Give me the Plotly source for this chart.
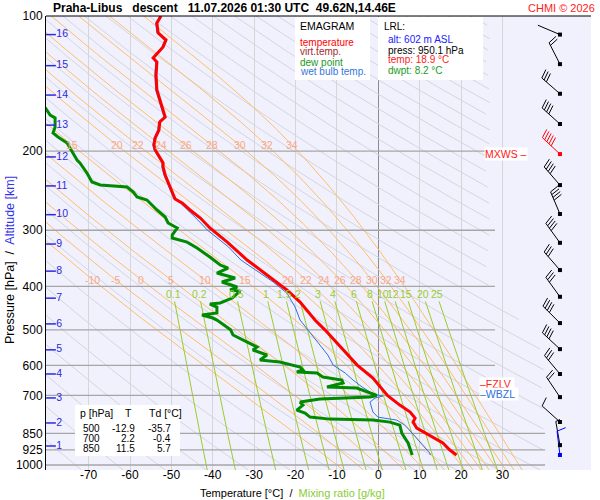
import numpy as np
import plotly.graph_objects as go

# ---------------- sounding data ----------------
temp_p = [100, 103.7, 109.1, 113.1, 117.2, 120.9, 124.0, 126.6, 135.3, 146.2, 153.8, 161.9, 167.9, 172.2,
          179.4, 186.9, 193.8, 198.8, 206.1, 212.5, 216.9, 226.0, 234.3, 240.4, 247.9, 255.6, 260.9, 270.4,
          281.8, 296.6, 318.8, 349.5, 377.5, 407.6, 433.5, 475.5, 500, 535, 568.9, 599, 640, 663, 680.8,
          700, 735.5, 762, 786.2, 802.5, 827.6, 850, 893.3, 926, 950.1]
temp_t = [-52.5, -53.5, -53.2, -51.3, -52.0, -53.2, -54.4, -53.5, -53.7, -53.5, -52.8, -52.0, -51.5, -52.8,
          -53.0, -53.9, -54.2, -53.9, -52.8, -52.0, -52.0, -51.5, -50.8, -50.3, -49.8, -49.1, -47.4, -45.5,
          -43.0, -40.7, -36.5, -31.7, -26.9, -22.1, -18.9, -15.3, -12.9, -10.0, -7.3, -5.1, -1.3, 0.0, 1.1,
          2.2, 5.2, 7.7, 8.9, 8.4, 9.3, 11.5, 15.6, 17.3, 18.9]

wetb_p = [100, 103.7, 109.1, 113.1, 117.2, 120.9, 124.0, 126.6, 135.3, 146.2, 153.8, 161.9, 167.9, 172.2,
          179.4, 186.9, 193.8, 198.8, 206.1, 212.5, 216.9, 226.0, 234.3, 240.4, 247.9, 255.6, 260.9, 270.4,
          284.7, 299.7, 326.9, 349.5, 391.2, 414, 444.8, 475.5, 508.2, 540.5, 568.9, 599, 624, 646.8, 670.5,
          687.9, 698.6, 702.2, 709.4, 724.2, 762, 782.2, 794.3, 814.9, 835.6, 866, 902.6, 940.3, 950.1]
wetb_t = [-52.8, -53.8, -53.5, -51.6, -52.3, -53.5, -54.7, -53.8, -54.0, -53.8, -53.1, -52.3, -51.8, -53.1,
          -53.3, -54.2, -54.5, -54.2, -53.1, -52.3, -52.3, -51.8, -51.1, -50.6, -50.1, -49.4, -47.8, -46.0,
          -43.6, -41.3, -36.2, -33.2, -25.4, -22.1, -20.1, -18.9, -16.5, -14.1, -12.2, -10.9, -8.0, -6.1, -3.9,
          -2.0, -0.1, 1.1, -0.8, -2.0, -1.3, -0.1, 4.5, 6.4, 7.5, 9.0, 10.6, 12.4, 12.6]

dewp_p = [160, 166.2, 168.7, 176.7, 182.2, 186, 191.8, 200.9, 209.3, 212.5, 223.7, 234.3, 237.9, 240.4,
          246.6, 253, 256.9, 270.4, 280.3, 289.1, 296.6, 307.5, 312.3, 318.8, 328.7, 344.2, 358.6, 364.2,
          373.6, 383.3, 391.2, 401.4, 407.6, 410, 424.7, 435.7, 438, 444.8, 458.7, 463.4, 470.6, 475.5,
          500, 513.4, 532.2, 546.1, 554.6, 568.9, 583.7, 589.8, 605, 614.4, 620.8, 624, 636.8, 646.8,
          656.8, 670.5, 673.9, 687.9, 700, 705.8, 713.1, 724.2, 735.5, 754.6, 766.3, 782.2, 790.3, 794.3,
          802.5, 814.9, 850, 893.3, 940.3, 950.1]
dewp_t = [-80.5, -79.3, -78.1, -78.1, -78.6, -77.4, -75.2, -74.0, -72.8, -72.1, -70.4, -69.2, -67.2, -60.7,
          -59.2, -58.3, -55.9, -53.5, -51.5, -50.8, -48.6, -49.8, -49.8, -46.2, -43.8, -40.7, -38.2, -36.3,
          -39.0, -34.6, -37.8, -34.1, -35.8, -33.4, -35.3, -38.2, -40.7, -39.0, -39.0, -42.6, -40.0, -39.0,
          -35.7, -35.1, -31.7, -29.3, -30.3, -26.9, -28.6, -23.8, -18.9, -18.2, -19.7, -14.8, -13.4, -8.8,
          -8.5, -12.4, -5.2, -2.7, -0.4, -2.0, -14.1, -18.9, -18.2, -19.7, -17.7, -16.5, -11.7, -1.3,
          2.8, 5.2, 5.7, 7.2, 8.1, 8.2]

# wind barbs: pressure [hPa], direction [deg], speed [kt]
wind_p = [110, 128, 149, 174, 203, 238, 276, 320, 368, 422, 483, 552, 627, 706, 802, 903, 950]
wind_dir = [293, 333, 311, 312, 313, 319, 337, 324, 319, 324, 315, 313, 320, 326, 312, 350, 353]
wind_kt = [3, 20, 30, 40, 50, 40, 40, 40, 30, 30, 40, 40, 30, 20, 10, 5, 10]
mxws_p = 203
fzlv_p = 660
wbzl_p = 695

# altitude scale
alt_km = [1, 2, 3, 4, 5, 6, 7, 8, 9, 10, 11, 12, 13, 14, 15, 16]
alt_p = [907, 806, 709, 627, 554, 485, 425, 370, 322, 277, 239, 206, 175, 150, 129, 110]

# table of standard levels
tab_p = [500, 700, 850]
tab_t = [-12.9, 2.2, 11.5]
tab_td = [-35.7, -0.4, 5.7]

# launch point
lrl_alt, lrl_press, lrl_temp, lrl_dwpt = 602, 950.1, 18.9, 8.2

# diagram background lines
p_levels = [200, 300, 400, 500, 600, 700, 850, 925, 1000]
p_ticks = [100, 200, 300, 400, 500, 600, 700, 850, 925, 1000]
t_ticks = [-70, -60, -50, -40, -30, -20, -10, 0, 10, 20, 30]
theta_dry = list(range(190, 600, 10))
theta_w = [-10, -5, 0, 5, 10, 15, 20, 22, 24, 26, 28, 30, 32, 34]
mix_ratio = [0.1, 0.2, 0.5, 1, 1.5, 2, 3, 4, 6, 8, 10, 12, 15, 20, 25]

# ---------------- geometry ----------------
W, H = 600, 500
ML, MR, MT, MB = 46, 9, 16, 30
X_MIN, X_MAX = -80.3, 51.4
P_TOP, P_BOT = 100.0, 1025.9
PX_C = (W - ML - MR) / (X_MAX - X_MIN)
PX_DEC = (H - MT - MB) / np.log10(P_BOT / P_TOP)
STN_T = 43.9

FONT = "Liberation Sans, Arial, sans-serif"

RD, CP, LV, EPS = 287.04, 1005.7, 2.501e6, 0.622


def px(xp):
    # pixel -> paper fraction (plot area spans 46..591)
    return (xp - ML) / (W - ML - MR)


def py(yp):
    # pixel -> paper fraction (plot area spans 16..470)
    return (H - MB - yp) / (H - MT - MB)


def sat_vap(tc):
    return 6.112 * np.exp(17.67 * tc / (tc + 243.5))


def dewpoint(w, p):
    e = w * p / (622.0 + w)
    lg = np.log(e / 6.112)
    return 243.5 * lg / (17.67 - lg)


def moist_rate(lnp, tk):
    p = np.exp(lnp)
    e = sat_vap(tk - 273.15)
    rs = EPS * e / (p - e)
    return (RD * tk + LV * rs) / (CP + LV ** 2 * rs * EPS / (RD * tk ** 2))


def pseudo_adiabat(tw):
    parts = []
    for p_end, n in ((P_TOP, 300), (P_BOT, 10)):
        lnp, tk = np.log(1000.0), tw + 273.15
        h = (np.log(p_end) - lnp) / n
        ps, ts = [1000.0], [tw]
        for _ in range(n):
            k1 = moist_rate(lnp, tk)
            k2 = moist_rate(lnp + h / 2, tk + h / 2 * k1)
            k3 = moist_rate(lnp + h / 2, tk + h / 2 * k2)
            k4 = moist_rate(lnp + h, tk + h * k3)
            tk += h * (k1 + 2 * k2 + 2 * k3 + k4) / 6
            lnp += h
            ps.append(np.exp(lnp))
            ts.append(tk - 273.15)
        parts.append((ps, ts))
    ps = parts[0][0][::-1] + parts[1][0][1:]
    ts = parts[0][1][::-1] + parts[1][1][1:]
    return np.array(ps), np.array(ts)


def barb_lines(p0, wdir, wspd, shaft=24, feather=9):
    th = np.radians(wdir)
    ux, uy = np.sin(th), -np.cos(th)
    fx, fy = np.cos(th), np.sin(th)
    segs = [((0, 0), (ux * shaft, uy * shaft))]
    d = shaft
    for _ in range(int(wspd // 10)):
        segs.append(((ux * d, uy * d), (ux * d + fx * feather + ux * 2.5, uy * d + fy * feather + uy * 2.5)))
        d -= 3
    if wspd % 10 >= 5:
        segs.append(((ux * d, uy * d), (ux * d + fx * feather / 2 + ux * 1.2, uy * d + fy * feather / 2 + uy * 1.2)))
    xs, ys = [], []
    for a, b in segs:
        for dx, dy in (a, b):
            xs.append(STN_T + dx / PX_C)
            ys.append(p0 * 10 ** (dy / PX_DEC))
        xs.append(None)
        ys.append(None)
    return xs, ys


fig = go.Figure()

# dry adiabats
pg = np.geomspace(P_TOP, P_BOT, 200)
t_lim = np.clip(27 + 13 * (np.log10(pg) - np.log10(400)) / (np.log10(550) - np.log10(400)), 27, 40)
dx, dy = [], []
for th in theta_dry:
    t = th * (pg / 1000.0) ** (RD / CP) - 273.15
    t = np.where(t <= t_lim, t, np.nan)
    dx += list(t) + [None]
    dy += list(pg) + [None]
fig.add_trace(go.Scatter(x=dx, y=dy, mode="lines", line=dict(color="#d5d5df", width=1), hoverinfo="skip"))

# pseudo-adiabats
sat_lines = {}
mx, my = [], []
for tw in theta_w:
    ps, ts = pseudo_adiabat(tw)
    sat_lines[tw] = (ps, ts)
    mx += list(ts) + [None]
    my += list(ps) + [None]
fig.add_trace(go.Scatter(x=mx, y=my, mode="lines", line=dict(color="#ffbe6a", width=1), hoverinfo="skip"))

# mixing ratio lines
pm = np.geomspace(432, P_BOT, 30)
wx, wy = [], []
for w in mix_ratio:
    wx += list(dewpoint(w, pm)) + [None]
    wy += list(pm) + [None]
fig.add_trace(go.Scatter(x=wx, y=wy, mode="lines", line=dict(color="#9ccc2a", width=1), hoverinfo="skip"))

# isobars
for p in p_levels:
    x_end = 40.3 if p >= 850 else 28.2
    fig.add_trace(go.Scatter(x=[X_MIN, x_end], y=[p, p], mode="lines",
                             line=dict(color="#a6a6a6", width=1.3), hoverinfo="skip"))

# profiles
fig.add_trace(go.Scatter(x=wetb_t, y=wetb_p, mode="lines", line=dict(color="#3070e0", width=1)))
fig.add_trace(go.Scatter(x=dewp_t, y=dewp_p, mode="lines", line=dict(color="#008a00", width=3)))
fig.add_trace(go.Scatter(x=temp_t, y=temp_p, mode="lines", line=dict(color="#ff0000", width=3)))

# wind barbs
barb_col = []
for i, p in enumerate(wind_p):
    col = "black"
    if p == mxws_p:
        col = "#ff0000"
    if i == len(wind_p) - 1:
        col = "#0000ff"
    barb_col.append(col)
    bx, by = barb_lines(p, wind_dir[i], wind_kt[i])
    fig.add_trace(go.Scatter(x=bx, y=by, mode="lines", line=dict(color=col, width=1), hoverinfo="skip"))
fig.add_trace(go.Scatter(x=[STN_T] * len(wind_p), y=wind_p, mode="markers",
                         marker=dict(symbol="square", size=4, color=barb_col), hoverinfo="skip"))

# altitude scale
fig.add_trace(go.Scatter(x=[-79.1] * len(alt_km), y=alt_p, mode="markers+text",
                         marker=dict(symbol="line-ew", size=7, line=dict(color="#2a2ae6", width=1.5)),
                         text=[str(k) for k in alt_km], textposition="middle right",
                         textfont=dict(family=FONT, size=10.5, color="#2a2ae6"), hoverinfo="skip"))

ann = []
# pseudo-adiabat labels
for tw in theta_w:
    ps, ts = sat_lines[tw]
    order = np.argsort(ps)
    for pl in (387, 194):
        xl = float(np.interp(pl, ps[order], ts[order]))
        if -79 < xl < 48:
            ann.append(dict(x=xl, y=np.log10(pl), xref="x", yref="y", text=str(tw), showarrow=False,
                            yanchor="middle", font=dict(family=FONT, size=10.5, color="#f6a88c")))
# mixing ratio labels
for w in mix_ratio:
    ann.append(dict(x=float(dewpoint(w, 417)), y=np.log10(417), xref="x", yref="y", text=f"{w:g}",
                    showarrow=False, yanchor="middle", font=dict(family=FONT, size=10.5, color="#99cc33")))

# level labels
ann.append(dict(x=(528 - 378.3) / PX_C, y=np.log10(mxws_p), xref="x", yref="y", text="MXWS \u2013",
                xanchor="right", yanchor="middle", showarrow=False, bgcolor="white", borderpad=0,
                font=dict(family=FONT, size=10.5, color="#ff2020")))
ann.append(dict(x=(479 - 378.3) / PX_C, y=np.log10(fzlv_p), xref="x", yref="y", text="\u2013FZLV ",
                xanchor="left", yanchor="middle", showarrow=False, bgcolor="white", borderpad=0,
                font=dict(family=FONT, size=10.5, color="#ff2020")))
ann.append(dict(x=(479 - 378.3) / PX_C, y=np.log10(wbzl_p), xref="x", yref="y", text="\u2013WBZL ",
                xanchor="left", yanchor="middle", showarrow=False, bgcolor="white", borderpad=0,
                font=dict(family=FONT, size=10.5, color="#3070e0")))


def txt(xp, yp, s, size=10, color="black", anchor="left", bold=False):
    if bold:
        s = f"<b>{s}</b>"
    ann.append(dict(x=px(xp), y=py(yp), xref="paper", yref="paper", text=s, showarrow=False,
                    xanchor=anchor, yanchor="middle", font=dict(family=FONT, size=size, color=color)))


# title and credit
txt(51, 8, "Praha-Libus&nbsp;&nbsp; descent&nbsp;&nbsp; 11.07.2026 01:30 UTC&nbsp; 49.62N,14.46E", 12, bold=True)
txt(597, 8, "CHMI \u00a9 2026", 11, "#ff2020", anchor="right")

# legend box
txt(298, 26, "EMAGRAM", 10.5)
txt(298, 42, "temperature", 10, "#ff0000")
txt(298, 52, "virt.temp.", 10, "#a52a2a")
txt(298, 62, "dew point", 10, "#1a9a1a")
txt(298, 72, "wet bulb temp.", 10, "#3377dd")

# launch point box
txt(382, 27, "LRL:", 10)
txt(386, 40, f"alt: {lrl_alt} m ASL", 10, "#2020ff")
txt(386, 50, f"press: {lrl_press} hPa", 10)
txt(386, 60, f"temp: {lrl_temp} \u00b0C", 10, "#ff2020")
txt(386, 70, f"dwpt: {lrl_dwpt} \u00b0C", 10, "#1a9a1a")

# table
txt(78, 413, "p [hPa]", 10.5)
txt(128, 413, "T", 10.5, anchor="center")
txt(147, 413, "Td [\u00b0C]", 10.5)
for i in range(len(tab_p)):
    yy = 428 + 10 * i
    txt(102, yy, str(tab_p[i]), 10, anchor="right")
    txt(137, yy, f"{tab_t[i]:.1f}", 10, anchor="right")
    txt(173, yy, f"{tab_td[i]:.1f}", 10, anchor="right")

# axis titles
ann.append(dict(x=px(10), y=py(260), xref="paper", yref="paper", textangle=-90, showarrow=False,
                xanchor="center", yanchor="middle",
                text="Pressure [hPa]&nbsp; /&nbsp; <span style='color:#3333ee'>Altitude [km]</span>",
                font=dict(family=FONT, size=12.5, color="black")))
ann.append(dict(x=px(292), y=py(493), xref="paper", yref="paper", showarrow=False,
                xanchor="center", yanchor="middle",
                text="Temperature [\u00b0C]&nbsp; /&nbsp; <span style='color:#88cc33'>Mixing ratio [g/kg]</span>",
                font=dict(family=FONT, size=11, color="black")))

shapes = [
    dict(type="rect", xref="paper", yref="paper", x0=px(295), x1=px(370), y0=py(80), y1=py(17),
         fillcolor="white", line=dict(width=0)),
    dict(type="rect", xref="paper", yref="paper", x0=px(378), x1=px(483), y0=py(80), y1=py(17),
         fillcolor="white", line=dict(width=0)),
    dict(type="rect", xref="paper", yref="paper", x0=px(75), x1=px(180), y0=py(456), y1=py(405),
         fillcolor="white", line=dict(width=0)),
    dict(type="line", xref="paper", yref="paper", x0=0, x1=1, y0=1, y1=1, line=dict(color="black", width=1)),
]

fig.update_layout(
    width=W, height=H,
    margin=dict(l=ML, r=MR, t=MT, b=MB, autoexpand=False),
    paper_bgcolor="white",
    plot_bgcolor="#f1f1fd",
    showlegend=False,
    font=dict(family=FONT, size=12, color="black"),
    annotations=ann,
    shapes=shapes,
)
fig.update_xaxes(range=[X_MIN, X_MAX], tickvals=t_ticks, ticktext=[str(t) for t in t_ticks],
                 showgrid=True, gridcolor="#d6d6d6", gridwidth=1, zeroline=True, zerolinecolor="#8c8c8c",
                 zerolinewidth=1, showline=False, ticks="", ticklabelstandoff=-4, automargin=False,
                 tickfont=dict(family=FONT, size=12))
fig.update_yaxes(type="log", range=[np.log10(P_BOT), np.log10(P_TOP)], tickvals=p_ticks,
                 ticktext=[str(p) for p in p_ticks], showgrid=False, zeroline=False, showline=True,
                 linecolor="black", linewidth=1, ticks="", automargin=False,
                 tickfont=dict(family=FONT, size=12))

# the figure fills the whole 600x500 window, so drop the page's default body margin
fig.write_html("out.html", config={"displayModeBar": False},
               post_script="document.body.style.margin='0';")
